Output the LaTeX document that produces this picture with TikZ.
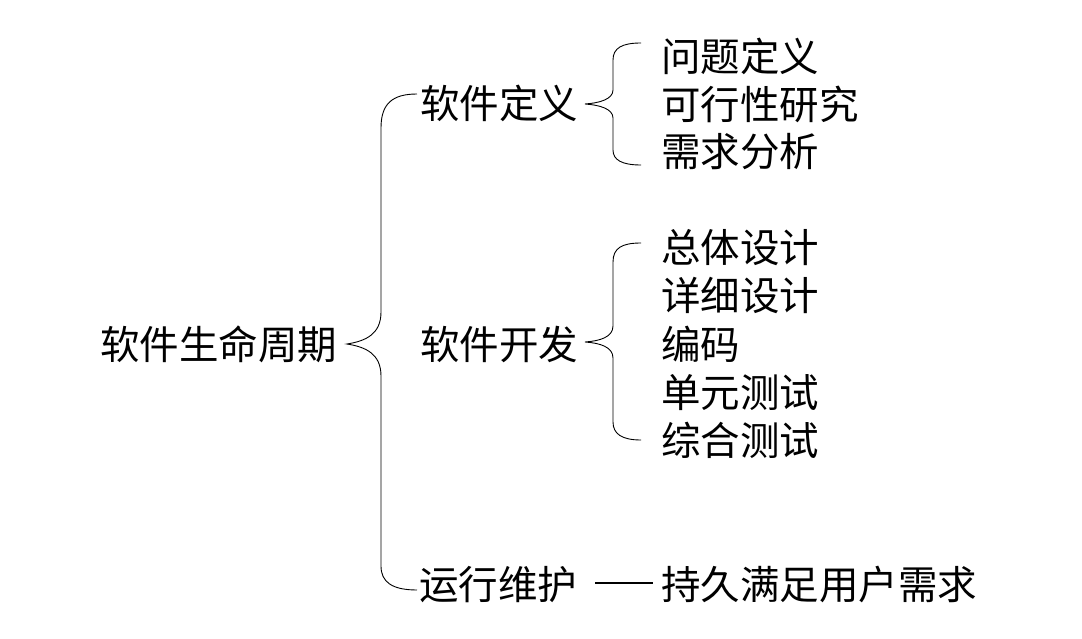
\documentclass[tikz,border=0pt]{standalone}
\usepackage{fontspec}
\newfontfamily\cjk{Noto Sans CJK SC}
\usetikzlibrary{calc}
\begin{document}
\begin{tikzpicture}[x=1pt,y=-1pt,
  lbl/.style={anchor=west,inner sep=0pt,font=\cjk\fontsize{39.5}{39.5}\selectfont,text height=32pt,text depth=3pt},
  brace/.style={draw=black,line width=0.9pt},
  dashline/.style={draw=black,line width=1.6pt}]
\useasboundingbox (0,0) rectangle (1082,639);
% level 0
\node[lbl] (life) at (100,345) {软件生命周期};
% level 1
\node[lbl] (def) at (420,104) {软件定义};
\node[lbl] (dev) at (420,345) {软件开发};
\node[lbl] (ops) at (419,585) {运行维护};
% level 2
\node[lbl] (a1) at (661,57) {问题定义};
\node[lbl] (a2) at (661,105) {可行性研究};
\node[lbl] (a3) at (661,152) {需求分析};
\node[lbl] (b1) at (661,248) {总体设计};
\node[lbl] (b2) at (661,296) {详细设计};
\node[lbl] (b3) at (661,345) {编码};
\node[lbl] (b4) at (661,393) {单元测试};
\node[lbl] (b5) at (661,441) {综合测试};
\node[lbl] (c1) at (661,585) {持久满足用户需求};
% big brace
\draw[brace] (417,94) .. controls (392,94) and (381,104) .. (381,128)
  -- (381,312) .. controls (381,334) and (366,341) .. (347,344)
  .. controls (366,347) and (381,354) .. (381,376)
  -- (381,566) .. controls (381,582) and (392,590) .. (417,590);
% brace for 软件定义
\draw[brace] (641,43) .. controls (622,43) and (613,48) .. (613,60)
  -- (613,90) .. controls (613,99) and (600,103) .. (585,104)
  .. controls (600,105) and (613,109) .. (613,118)
  -- (613,150) .. controls (613,160) and (622,165) .. (641,165);
% brace for 软件开发
\draw[brace] (641,243) .. controls (622,243) and (613,248) .. (613,262)
  -- (613,326) .. controls (613,337) and (600,341) .. (585,342)
  .. controls (600,343) and (613,347) .. (613,358)
  -- (613,422) .. controls (613,434) and (622,440) .. (641,440);
% dash
\draw[dashline] ($(ops.east)+(18,-2)$) -- ($(c1.west)+(-8,-2)$);
\end{tikzpicture}
\end{document}
